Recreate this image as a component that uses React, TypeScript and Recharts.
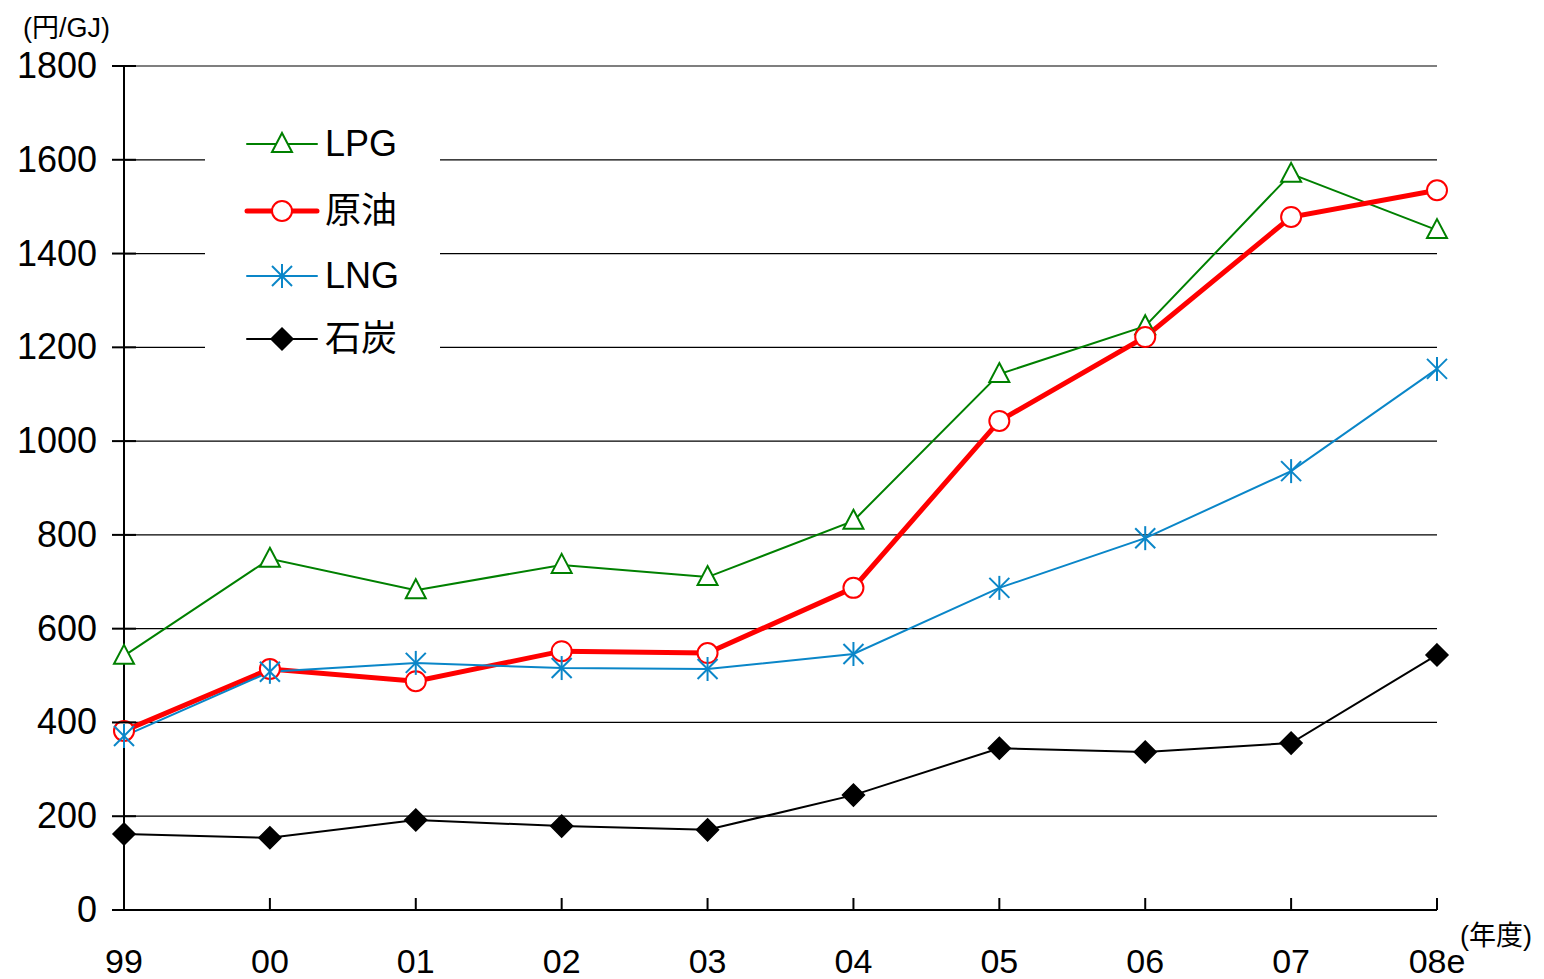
import React from 'react';
import { LineChart, Line, XAxis, YAxis, CartesianGrid } from 'recharts';

const years = ['99', '00', '01', '02', '03', '04', '05', '06', '07', '08e'];
const lpg = [542, 749, 682, 736, 710, 830, 1143, 1245, 1570, 1450];
const crude = [382, 514, 488, 552, 548, 687, 1043, 1222, 1478, 1535];
const lng = [371, 508, 527, 516, 514, 546, 687, 793, 936, 1154];
const coal = [162, 154, 192, 179, 171, 245, 345, 337, 356, 544];
const yTicks = [0, 200, 400, 600, 800, 1000, 1200, 1400, 1600, 1800];

const GREEN = '#008000';
const RED = '#ff0000';
const BLUE = '#0a86c8';
const FONT = '"Liberation Sans", Arial, "Noto Sans CJK JP", sans-serif';

const data = years.map((y, i) => ({
  year: y,
  lpg: lpg[i],
  crude: crude[i],
  lng: lng[i],
  coal: coal[i],
}));

// marker shapes
const triangle = (cx: number, cy: number, key?: any) => (
  <path key={key} d={`M${cx},${cy - 11} L${cx + 10},${cy + 8} L${cx - 10},${cy + 8} Z`} fill="#fff" stroke={GREEN} strokeWidth={2} />
);
const circle = (cx: number, cy: number, key?: any) => (
  <circle key={key} cx={cx} cy={cy} r={10} fill="#fff" stroke={RED} strokeWidth={2} />
);
const star = (cx: number, cy: number, key?: any) => (
  <g key={key} stroke={BLUE} strokeWidth={2}>
    <line x1={cx} y1={cy - 12} x2={cx} y2={cy + 12} />
    <line x1={cx - 10} y1={cy - 10} x2={cx + 10} y2={cy + 10} />
    <line x1={cx - 10} y1={cy + 10} x2={cx + 10} y2={cy - 10} />
  </g>
);
const diamond = (cx: number, cy: number, key?: any) => (
  <path key={key} d={`M${cx},${cy - 11} L${cx + 11},${cy} L${cx},${cy + 11} L${cx - 11},${cy} Z`} fill="#000" stroke="#000" strokeWidth={1.5} />
);

const YTick = (props: any) => {
  const { x, y, payload } = props;
  return (
    <g>
      <line x1={x - 12} x2={x + 12} y1={y} y2={y} stroke="#000" strokeWidth={2} />
      <text x={x - 27} y={y + 12} textAnchor="end" fontSize={36} fill="#000" fontFamily={FONT}>{payload.value}</text>
    </g>
  );
};

const XTick = (props: any) => {
  const { x, y, payload } = props;
  return (
    <g>
      <line x1={x} x2={x} y1={y} y2={y - 12} stroke="#000" strokeWidth={2} />
      <text x={x} y={y + 63} textAnchor="middle" fontSize={34} fill="#000" fontFamily={FONT}>{payload.value}</text>
    </g>
  );
};

const legendItems = [
  { name: 'LPG', color: GREEN, width: 2, mark: triangle },
  { name: '原油', color: RED, width: 5, mark: circle },
  { name: 'LNG', color: BLUE, width: 2, mark: star },
  { name: '石炭', color: '#000', width: 2, mark: diamond },
];

const rowY = [29, 96, 161, 224];

const ChartLegend = () => (
  <svg width={235} height={250} style={{ position: 'absolute', left: 205, top: 115, background: '#fff' }}>
    {legendItems.map((it, i) => (
      <g key={it.name}>
        <line x1={42} x2={112} y1={rowY[i]} y2={rowY[i]} stroke={it.color} strokeWidth={it.width} strokeLinecap="round" />
        {it.mark(77, rowY[i])}
        <text x={120} y={rowY[i] + 12} fontSize={36} fill="#000" fontFamily={FONT}>{it.name}</text>
      </g>
    ))}
  </svg>
);

export default function App() {
  return (
    <div style={{ position: 'absolute', left: 0, top: 0, width: 1544, height: 979, background: '#fff', fontFamily: FONT }}>
      <LineChart width={1544} height={979} data={data} margin={{ top: 66, right: 107, left: 14, bottom: 9 }}>
        <CartesianGrid horizontal vertical={false} stroke="#000" strokeWidth={1.2} />
        <XAxis
          dataKey="year"
          tick={<XTick />}
          tickSize={0}
          tickMargin={0}
          axisLine={{ stroke: '#000', strokeWidth: 2 }}
          tickLine={false}
          height={60}
          interval={0}
        />
        <YAxis
          domain={[0, 1800]}
          ticks={yTicks}
          tick={<YTick />}
          tickSize={0}
          tickMargin={0}
          axisLine={{ stroke: '#000', strokeWidth: 2 }}
          tickLine={false}
          width={110}
          interval={0}
        />
        <Line dataKey="lpg" stroke={GREEN} strokeWidth={2} isAnimationActive={false}
          dot={(p: any) => triangle(p.cx, p.cy, p.key ?? `lpg-${p.index}`)} />
        <Line dataKey="crude" stroke={RED} strokeWidth={5} isAnimationActive={false}
          dot={(p: any) => circle(p.cx, p.cy, p.key ?? `crude-${p.index}`)} />
        <Line dataKey="lng" stroke={BLUE} strokeWidth={2} isAnimationActive={false}
          dot={(p: any) => star(p.cx, p.cy, p.key ?? `lng-${p.index}`)} />
        <Line dataKey="coal" stroke="#000" strokeWidth={2} isAnimationActive={false}
          dot={(p: any) => diamond(p.cx, p.cy, p.key ?? `coal-${p.index}`)} />
      </LineChart>
      <ChartLegend />
      <div style={{ position: 'absolute', left: 23, top: 6, fontSize: 27, color: '#000' }}>(円/GJ)</div>
      <div style={{ position: 'absolute', left: 1460, top: 914, fontSize: 27, color: '#000' }}>(年度)</div>
    </div>
  );
}
